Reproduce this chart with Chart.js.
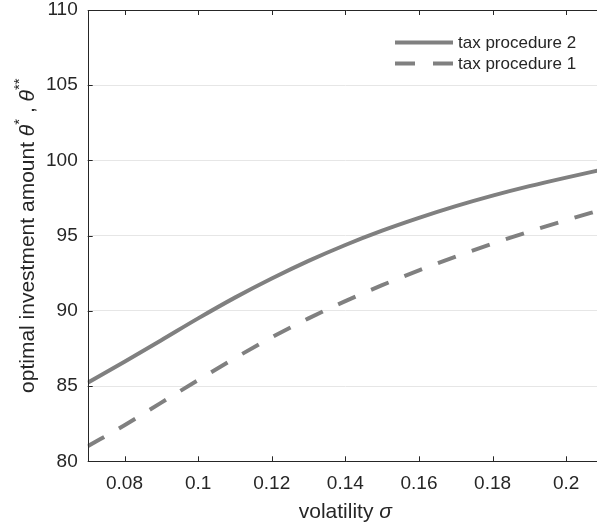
<!DOCTYPE html>
<html>
<head>
<meta charset="utf-8">
<script src="https://cdn.jsdelivr.net/npm/chart.js@4.4.0/dist/chart.umd.min.js"></script>
<style>
  html, body { margin: 0; padding: 0; background: #fff; overflow: hidden; }
  #wrap { width: 640px; height: 528px; }
</style>
</head>
<body>
<div id="wrap"><canvas id="myChart" width="640" height="528"></canvas></div>
<script>
// values
const sigma = [0.07, 0.08, 0.09, 0.10, 0.11, 0.12, 0.13, 0.14, 0.15, 0.16, 0.17, 0.18, 0.19, 0.20, 0.21]
const taxProc2 = [85.22, 86.62, 88.05, 89.5, 90.88, 92.15, 93.32, 94.38, 95.33, 96.18, 96.96, 97.66, 98.29, 98.86, 99.4]
const taxProc1 = [81.0, 82.4, 83.9, 85.4, 86.86, 88.24, 89.5, 90.65, 91.71, 92.69, 93.61, 94.47, 95.27, 96.03, 96.75]
const seriesNames = ["tax procedure 2", "tax procedure 1"]
const xTicks = [0.08, 0.1, 0.12, 0.14, 0.16, 0.18, 0.2]
const yTicks = [80, 85, 90, 95, 100, 105, 110]

const axisColor = "#262626"
const lineGray = "#808080"
const fontName = "'Liberation Sans', Arial, sans-serif"

function toPoints(ys) {
  return sigma.map((x, i) => ({ x: x, y: ys[i] }))
}

// box, inward ticks, axis titles and legend
const matlabAxes = {
  id: "matlabAxes",
  afterDatasetsDraw(chart) {
    const ctx = chart.ctx
    const a = chart.chartArea
    const xs = chart.scales.x
    const ys = chart.scales.y
    ctx.save()
    ctx.strokeStyle = axisColor
    ctx.lineWidth = 1
    ctx.beginPath()
    ctx.rect(Math.round(a.left) + 0.5, Math.round(a.top) + 0.5, a.right - a.left, Math.round(a.bottom - a.top))
    ctx.stroke()
    ctx.beginPath()
    xTicks.forEach(v => {
      let px = Math.round(xs.getPixelForValue(v)) + 0.5
      ctx.moveTo(px, a.bottom); ctx.lineTo(px, a.bottom - 5)
      ctx.moveTo(px, a.top); ctx.lineTo(px, a.top + 5)
    })
    yTicks.forEach(v => {
      let py = Math.round(ys.getPixelForValue(v)) + 0.5
      ctx.moveTo(a.left, py); ctx.lineTo(a.left + 5, py)
      ctx.moveTo(a.right, py); ctx.lineTo(a.right - 5, py)
    })
    ctx.stroke()

    // legend
    ctx.font = "17px " + fontName
    ctx.textBaseline = "middle"
    ctx.textAlign = "left"
    chart.data.datasets.forEach((ds, i) => {
      let y = 42.5 + i * 21
      ctx.strokeStyle = ds.borderColor
      ctx.lineWidth = ds.borderWidth
      ctx.setLineDash(ds.borderDash ? [20, 18] : [])
      ctx.beginPath()
      ctx.moveTo(395, y); ctx.lineTo(453, y)
      ctx.stroke()
      ctx.setLineDash([])
      ctx.fillStyle = axisColor
      ctx.fillText(seriesNames[i], 458, y + 1)
    })

    // x title
    ctx.fillStyle = axisColor
    ctx.textBaseline = "alphabetic"
    let part1 = "volatility "
    let part2 = "σ"
    ctx.font = "21px " + fontName
    let w1 = ctx.measureText(part1).width
    ctx.font = "italic 21px " + fontName
    let w2 = ctx.measureText(part2).width
    let x0 = (a.left + a.right) / 2 - (w1 + w2) / 2
    ctx.font = "21px " + fontName
    ctx.fillText(part1, x0, 518)
    ctx.font = "italic 21px " + fontName
    ctx.fillText(part2, x0 + w1, 518)

    // y title, rotated, with superscripts
    const pieces = [
      { t: "optimal investment amount ", f: "21px " + fontName, dy: 0 },
      { t: "θ", f: "italic 21px " + fontName, dy: 0 },
      { t: "*", f: "15px " + fontName, dy: -10 },
      { t: " , ", f: "21px " + fontName, dy: 0 },
      { t: "θ", f: "italic 21px " + fontName, dy: 0 },
      { t: "**", f: "15px " + fontName, dy: -10 }
    ]
    let total = 0
    pieces.forEach(p => { ctx.font = p.f; p.w = ctx.measureText(p.t).width; total += p.w })
    ctx.translate(34, (a.top + a.bottom) / 2)
    ctx.rotate(-Math.PI / 2)
    let cx = -total / 2
    pieces.forEach(p => {
      ctx.font = p.f
      ctx.fillText(p.t, cx, p.dy)
      cx += p.w
    })
    ctx.restore()
  }
}

const config = {
  type: "line",
  data: {
    datasets: [
      {
        label: seriesNames[0],
        data: toPoints(taxProc2),
        borderColor: lineGray,
        borderWidth: 4,
        pointRadius: 0,
        cubicInterpolationMode: "monotone",
        fill: false
      },
      {
        label: seriesNames[1],
        data: toPoints(taxProc1),
        borderColor: lineGray,
        borderWidth: 4,
        borderDash: [19, 17],
        pointRadius: 0,
        cubicInterpolationMode: "monotone",
        fill: false
      }
    ]
  },
  options: {
    responsive: false,
    animation: false,
    devicePixelRatio: 1,
    layout: { padding: { top: 10, right: 37, left: 0, bottom: 0 } },
    plugins: { legend: { display: false }, tooltip: { enabled: false } },
    scales: {
      x: {
        type: "linear",
        min: 0.07,
        max: 0.21,
        afterBuildTicks: axis => { axis.ticks = xTicks.map(v => ({ value: v })) },
        afterFit: axis => { axis.height = 66.7; axis.paddingLeft = 0; axis.paddingRight = 0 },
        grid: { display: false, drawTicks: false },
        border: { display: false },
        ticks: {
          color: axisColor,
          font: { family: fontName, size: 19 },
          padding: 11,
          maxRotation: 0,
          callback: v => String(v)
        }
      },
      y: {
        min: 80,
        max: 110,
        afterBuildTicks: axis => { axis.ticks = yTicks.map(v => ({ value: v })) },
        afterFit: axis => { axis.width = 87.7; axis.paddingTop = 0; axis.paddingBottom = 0 },
        grid: { color: "#e6e6e6", drawTicks: false },
        border: { display: false },
        ticks: {
          color: axisColor,
          font: { family: fontName, size: 19 },
          padding: 10
        }
      }
    }
  },
  plugins: [matlabAxes]
}

const myChart = new Chart(document.getElementById("myChart"), config)
</script>
</body>
</html>
